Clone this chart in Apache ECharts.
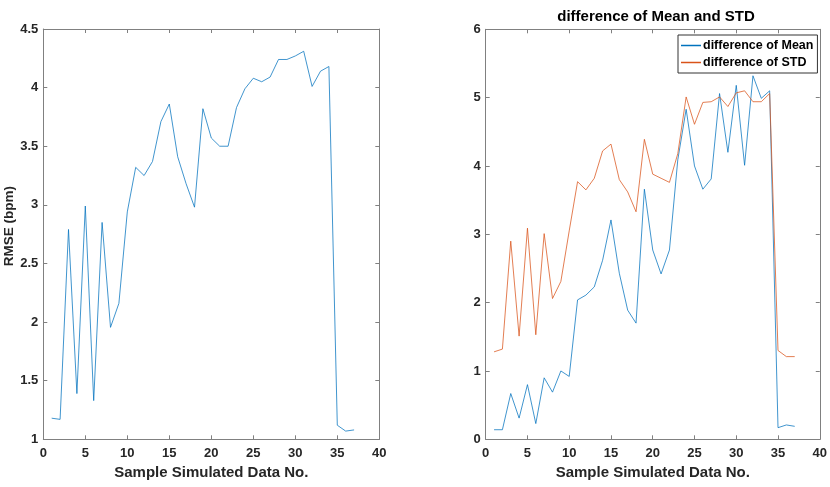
<!DOCTYPE html>
<html><head><meta charset="utf-8">
<script src="https://cdn.jsdelivr.net/npm/echarts@6/dist/echarts.min.js"></script>
<style>html,body{margin:0;padding:0;background:#fff}#c{width:830px;height:487px}</style>
</head><body><div id="c"></div>
<script>
const sampleNo = [1,2,3,4,5,6,7,8,9,10,11,12,13,14,15,16,17,18,19,20,21,22,23,24,25,26,27,28,29,30,31,32,33,34,35,36,37];
const rmse = [1.18,1.17,2.79,1.39,2.99,1.33,2.85,1.955,2.16,2.94,3.32,3.25,3.37,3.71,3.86,3.41,3.18,2.98,3.82,3.57,3.50,3.50,3.83,3.99,4.08,4.05,4.09,4.24,4.24,4.27,4.31,4.01,4.14,4.18,1.12,1.07,1.08];
const diffMean = [0.14,0.14,0.67,0.31,0.80,0.23,0.90,0.69,1.00,0.92,2.04,2.11,2.23,2.62,3.21,2.43,1.89,1.70,3.66,2.77,2.42,2.77,4.09,4.83,4.00,3.66,3.81,5.06,4.20,5.18,4.01,5.32,4.99,5.10,0.17,0.21,0.19];
const diffStd = [1.28,1.32,2.90,1.51,3.09,1.53,3.01,2.06,2.31,3.05,3.77,3.65,3.82,4.22,4.32,3.80,3.62,3.33,4.39,3.88,3.82,3.76,4.18,5.01,4.61,4.93,4.94,5.01,4.87,5.07,5.10,4.94,4.94,5.06,1.30,1.21,1.21];
const titleText = 'difference of Mean and STD';
const xLabel = 'Sample Simulated Data No.';
const yLabelLeft = 'RMSE (bpm)';
const seriesNames = ['difference of Mean','difference of STD'];

const blue = '#0072BD', orange = '#D95319', axisCol = '#808080';
const FF = 'Liberation Sans, Arial, sans-serif';
const lab = {color:'#262626', fontWeight:'bold', fontSize:13, fontFamily:FF};
function pair(a,b){return a.map((v,i)=>[a[i],b[i]]);}
function xAx(idx, main){
  return {type:'value', gridIndex:idx, min:0, max:40, interval:5, position: main?'bottom':'top',
    name: main?xLabel:'', nameLocation:'middle', nameGap:25,
    nameTextStyle:{color:'#262626', fontWeight:'bold', fontSize:15, fontFamily:FF},
    axisLine:{show:true, onZero:false, lineStyle:{color:axisCol, width:1}},
    axisTick:{show:true, inside:true, length:4, lineStyle:{color:axisCol}},
    axisLabel:{show:main, margin:8, ...lab}, splitLine:{show:false}};
}
function yAx(idx, main, min, max, interval, name){
  return {type:'value', gridIndex:idx, min, max, interval, position: main?'left':'right',
    name: main?name:'', nameLocation:'middle', nameGap:27, nameRotate:90,
    nameTextStyle:{color:'#262626', fontWeight:'bold', fontSize:13.5, fontFamily:FF, padding:[0,0,0,16]},
    axisLine:{show:true, onZero:false, lineStyle:{color:axisCol, width:1}},
    axisTick:{show:true, inside:true, length:4, lineStyle:{color:axisCol}},
    axisLabel:{show:main, margin:5, ...lab}, splitLine:{show:false}};
}
const chart = echarts.init(document.getElementById('c'), null, {renderer:'canvas'});
chart.setOption({
  animation:false,
  title:{text:titleText, left:651, top:4, textAlign:'center',
    textStyle:{fontSize:15, fontWeight:'bold', color:'#000', fontFamily:FF}},
  legend:{orient:'vertical', left:678, top:35, data:seriesNames, icon:'rect', itemWidth:20, itemHeight:1.5, itemGap:4,
    padding:[4,4,4,3], borderColor:'#333', borderWidth:1, backgroundColor:'#fff',
    textStyle:{fontSize:12.5, fontWeight:'bold', color:'#000', padding:[0,0,0,-3], fontFamily:FF}},
  grid:[{left:43.3, right:450.7, top:29, bottom:47.7},{left:485.7, right:8, top:29.3, bottom:47.7}],
  xAxis:[xAx(0,true), xAx(0,false), xAx(1,true), xAx(1,false)],
  yAxis:[yAx(0,true,1,4.5,0.5,yLabelLeft), yAx(0,false,1,4.5,0.5,''), yAx(1,true,0,6,1,''), yAx(1,false,0,6,1,'')],
  series:[
    {type:'line', xAxisIndex:0, yAxisIndex:0, data:pair(sampleNo,rmse), showSymbol:false, lineStyle:{color:blue,width:0.75}, itemStyle:{color:blue}},
    {name:seriesNames[0], type:'line', xAxisIndex:2, yAxisIndex:2, data:pair(sampleNo,diffMean), showSymbol:false, lineStyle:{color:blue,width:0.75}, itemStyle:{color:blue}},
    {name:seriesNames[1], type:'line', xAxisIndex:2, yAxisIndex:2, data:pair(sampleNo,diffStd), showSymbol:false, lineStyle:{color:orange,width:0.75}, itemStyle:{color:orange}}
  ]
});
</script></body></html>
